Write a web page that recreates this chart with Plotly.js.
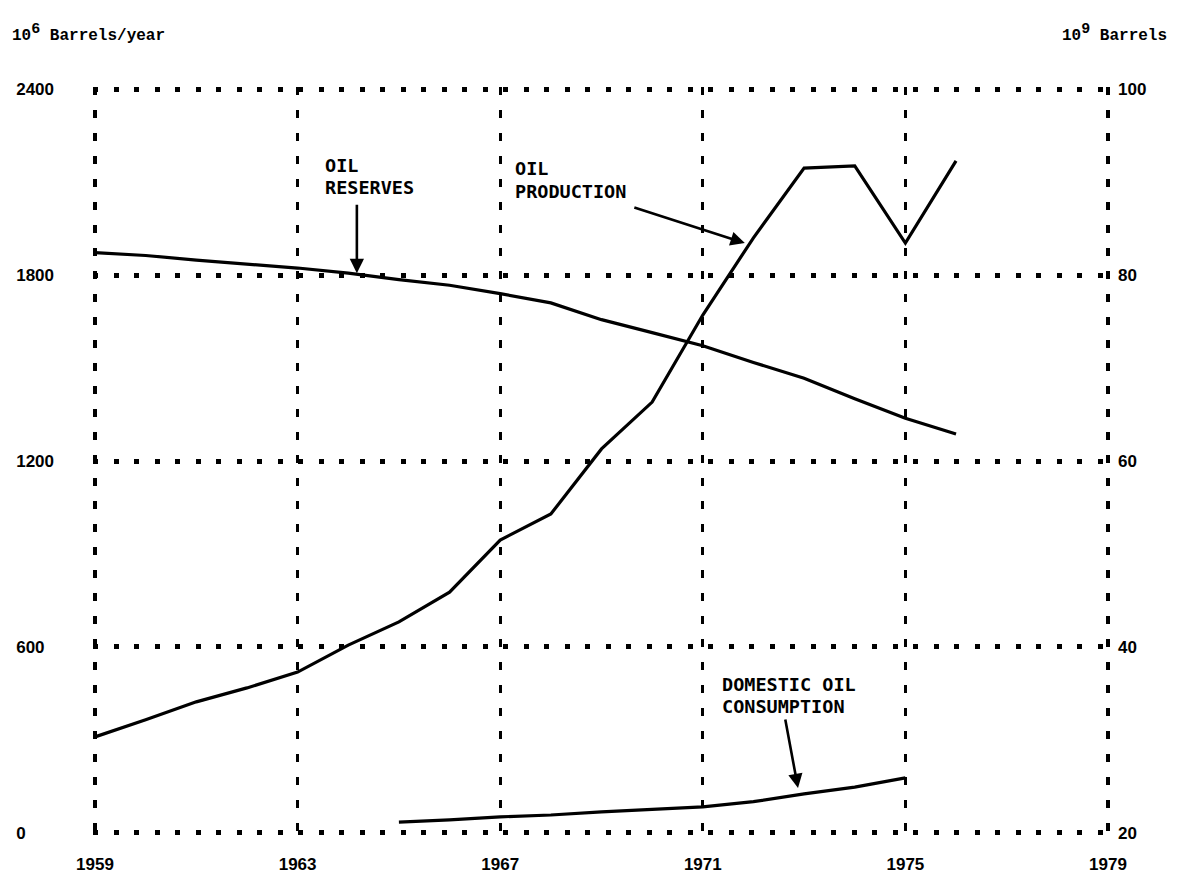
<!DOCTYPE html>
<html>
<head>
<meta charset="utf-8">
<script src="https://cdn.plot.ly/plotly-3.0.1.min.js"></script>
<style>html,body{margin:0;padding:0;background:#fff;}#chart{width:1177px;height:878px;}</style>
</head>
<body>
<div id="chart"></div>
<script>
// ---- data ----
const years = [1959,1960,1961,1962,1963,1964,1965,1966,1967,1968,1969,1970,1971,1972,1973,1974,1975,1976];
const oilProduction = [310,365,423,468,519,606,681,777,945,1029,1239,1390,1671,1920,2145,2152,1903,2168]; // 10^6 barrels/year
const oilReserves = [82.4,82.1,81.6,81.2,80.75,80.2,79.5,78.9,78.0,77.0,75.2,73.8,72.4,70.6,68.9,66.7,64.6,62.9]; // 10^9 barrels
const consumptionYears = [1965,1966,1967,1968,1969,1970,1971,1972,1973,1974,1975];
const domesticConsumption = [35,42,52,58,68,77,84,101,126,148,178]; // 10^6 barrels/year
const xTicks = [1959,1963,1967,1971,1975,1979];
const leftTicks = [0,600,1200,1800,2400];
const rightTicks = [20,40,60,80,100];

// ---- layout helpers (pixel -> paper) ----
const W = 1177, H = 878, M = {l:93, r:67, t:87, b:43};
const pw = W - M.l - M.r, ph = H - M.t - M.b;
const px = x => (x - M.l) / pw;
const py = y => (H - M.b - y) / ph;
// small padding so the edge grid lines are drawn inside the plot area
const xPad = 0.04, yPad = 6.5, y2Pad = 0.217;

const FIG = '\u2007';
const leftText = leftTicks.map(v => { const s = String(v); return s + FIG.repeat(4 - s.length); });

const lineStyle = {color:'#000', width:3.2};
const traces = [
  {x: years, y: oilProduction, type:'scatter', mode:'lines', line: lineStyle, yaxis:'y', name:'Oil production'},
  {x: consumptionYears, y: domesticConsumption, type:'scatter', mode:'lines', line: lineStyle, yaxis:'y', name:'Domestic oil consumption'},
  {x: years, y: oilReserves, type:'scatter', mode:'lines', line: lineStyle, yaxis:'y2', name:'Oil reserves'}
];

const tickFont = {family:'Liberation Sans, Arial, sans-serif', size:17, color:'#000', weight:'bold'};
const labFont = {family:'DejaVu Sans Mono, monospace', size:18.5, color:'#000', weight:'bold'};
const titleFont = {family:'Liberation Mono, Courier New, monospace', size:16, color:'#000', weight:'bold'};

function label(text, x, y) {
  return {text: text, xref:'paper', yref:'paper', x: px(x), y: py(y), xanchor:'left', yanchor:'middle', showarrow:false, font: labFont};
}
function arrow(xv, yv, ax, ay) {
  return {text:'', xref:'x', yref:'y', x: xv, y: yv, ax: ax, ay: ay, showarrow:true,
          arrowhead:2, arrowsize:1.1, arrowwidth:2.6, arrowcolor:'#000', standoff:0, startstandoff:0};
}

const layout = {
  width: W, height: H,
  margin: M,
  paper_bgcolor:'#fff', plot_bgcolor:'#fff',
  showlegend:false,
  xaxis: {
    range:[xTicks[0]-xPad, xTicks[xTicks.length-1]+xPad], tickmode:'array', tickvals: xTicks, ticktext: xTicks.map(String),
    showgrid:true, gridcolor:'#000', gridwidth:3.2, griddash:'8px,15px',
    zeroline:false, showline:false, ticks:'', tickfont: tickFont, ticklabelstandoff: 17
  },
  yaxis: {
    range:[leftTicks[0]-yPad, leftTicks[leftTicks.length-1]+yPad], tickmode:'array', tickvals: leftTicks, ticktext: leftText,
    showgrid:true, gridcolor:'#000', gridwidth:5, griddash:'5px,15.5px',
    zeroline:false, showline:false, ticks:'', tickfont: tickFont, ticklabelstandoff: 38
  },
  yaxis2: {
    range:[rightTicks[0]-y2Pad, rightTicks[rightTicks.length-1]+y2Pad], overlaying:'y', side:'right', tickmode:'array', tickvals: rightTicks, ticktext: rightTicks.map(String),
    showgrid:false, zeroline:false, showline:false, ticks:'', tickfont: tickFont, ticklabelstandoff: 7
  },
  annotations: [
    {text:'10<sup><span style="font-size:15px">6</span></sup> Barrels/year', xref:'paper', yref:'paper', x: px(10), y: py(33), xanchor:'left', yanchor:'middle', showarrow:false, font: titleFont},
    {text:'10<sup><span style="font-size:15px">9</span></sup> Barrels', xref:'paper', yref:'paper', x: px(1169), y: py(33), xanchor:'right', yanchor:'middle', showarrow:false, font: titleFont},
    label('OIL', 323, 165),
    label('RESERVES', 323, 187),
    label('OIL', 513, 168),
    label('PRODUCTION', 513, 191),
    label('DOMESTIC OIL', 720, 684),
    label('CONSUMPTION', 720, 706),
    arrow(1964.17, 1806, 0, -70),
    arrow(1971.83, 1903, -112, -36),
    arrow(1972.88, 145, -13, -70)
  ]
};

Plotly.newPlot('chart', traces, layout, {displayModeBar:false, staticPlot:true});
</script>
</body>
</html>
